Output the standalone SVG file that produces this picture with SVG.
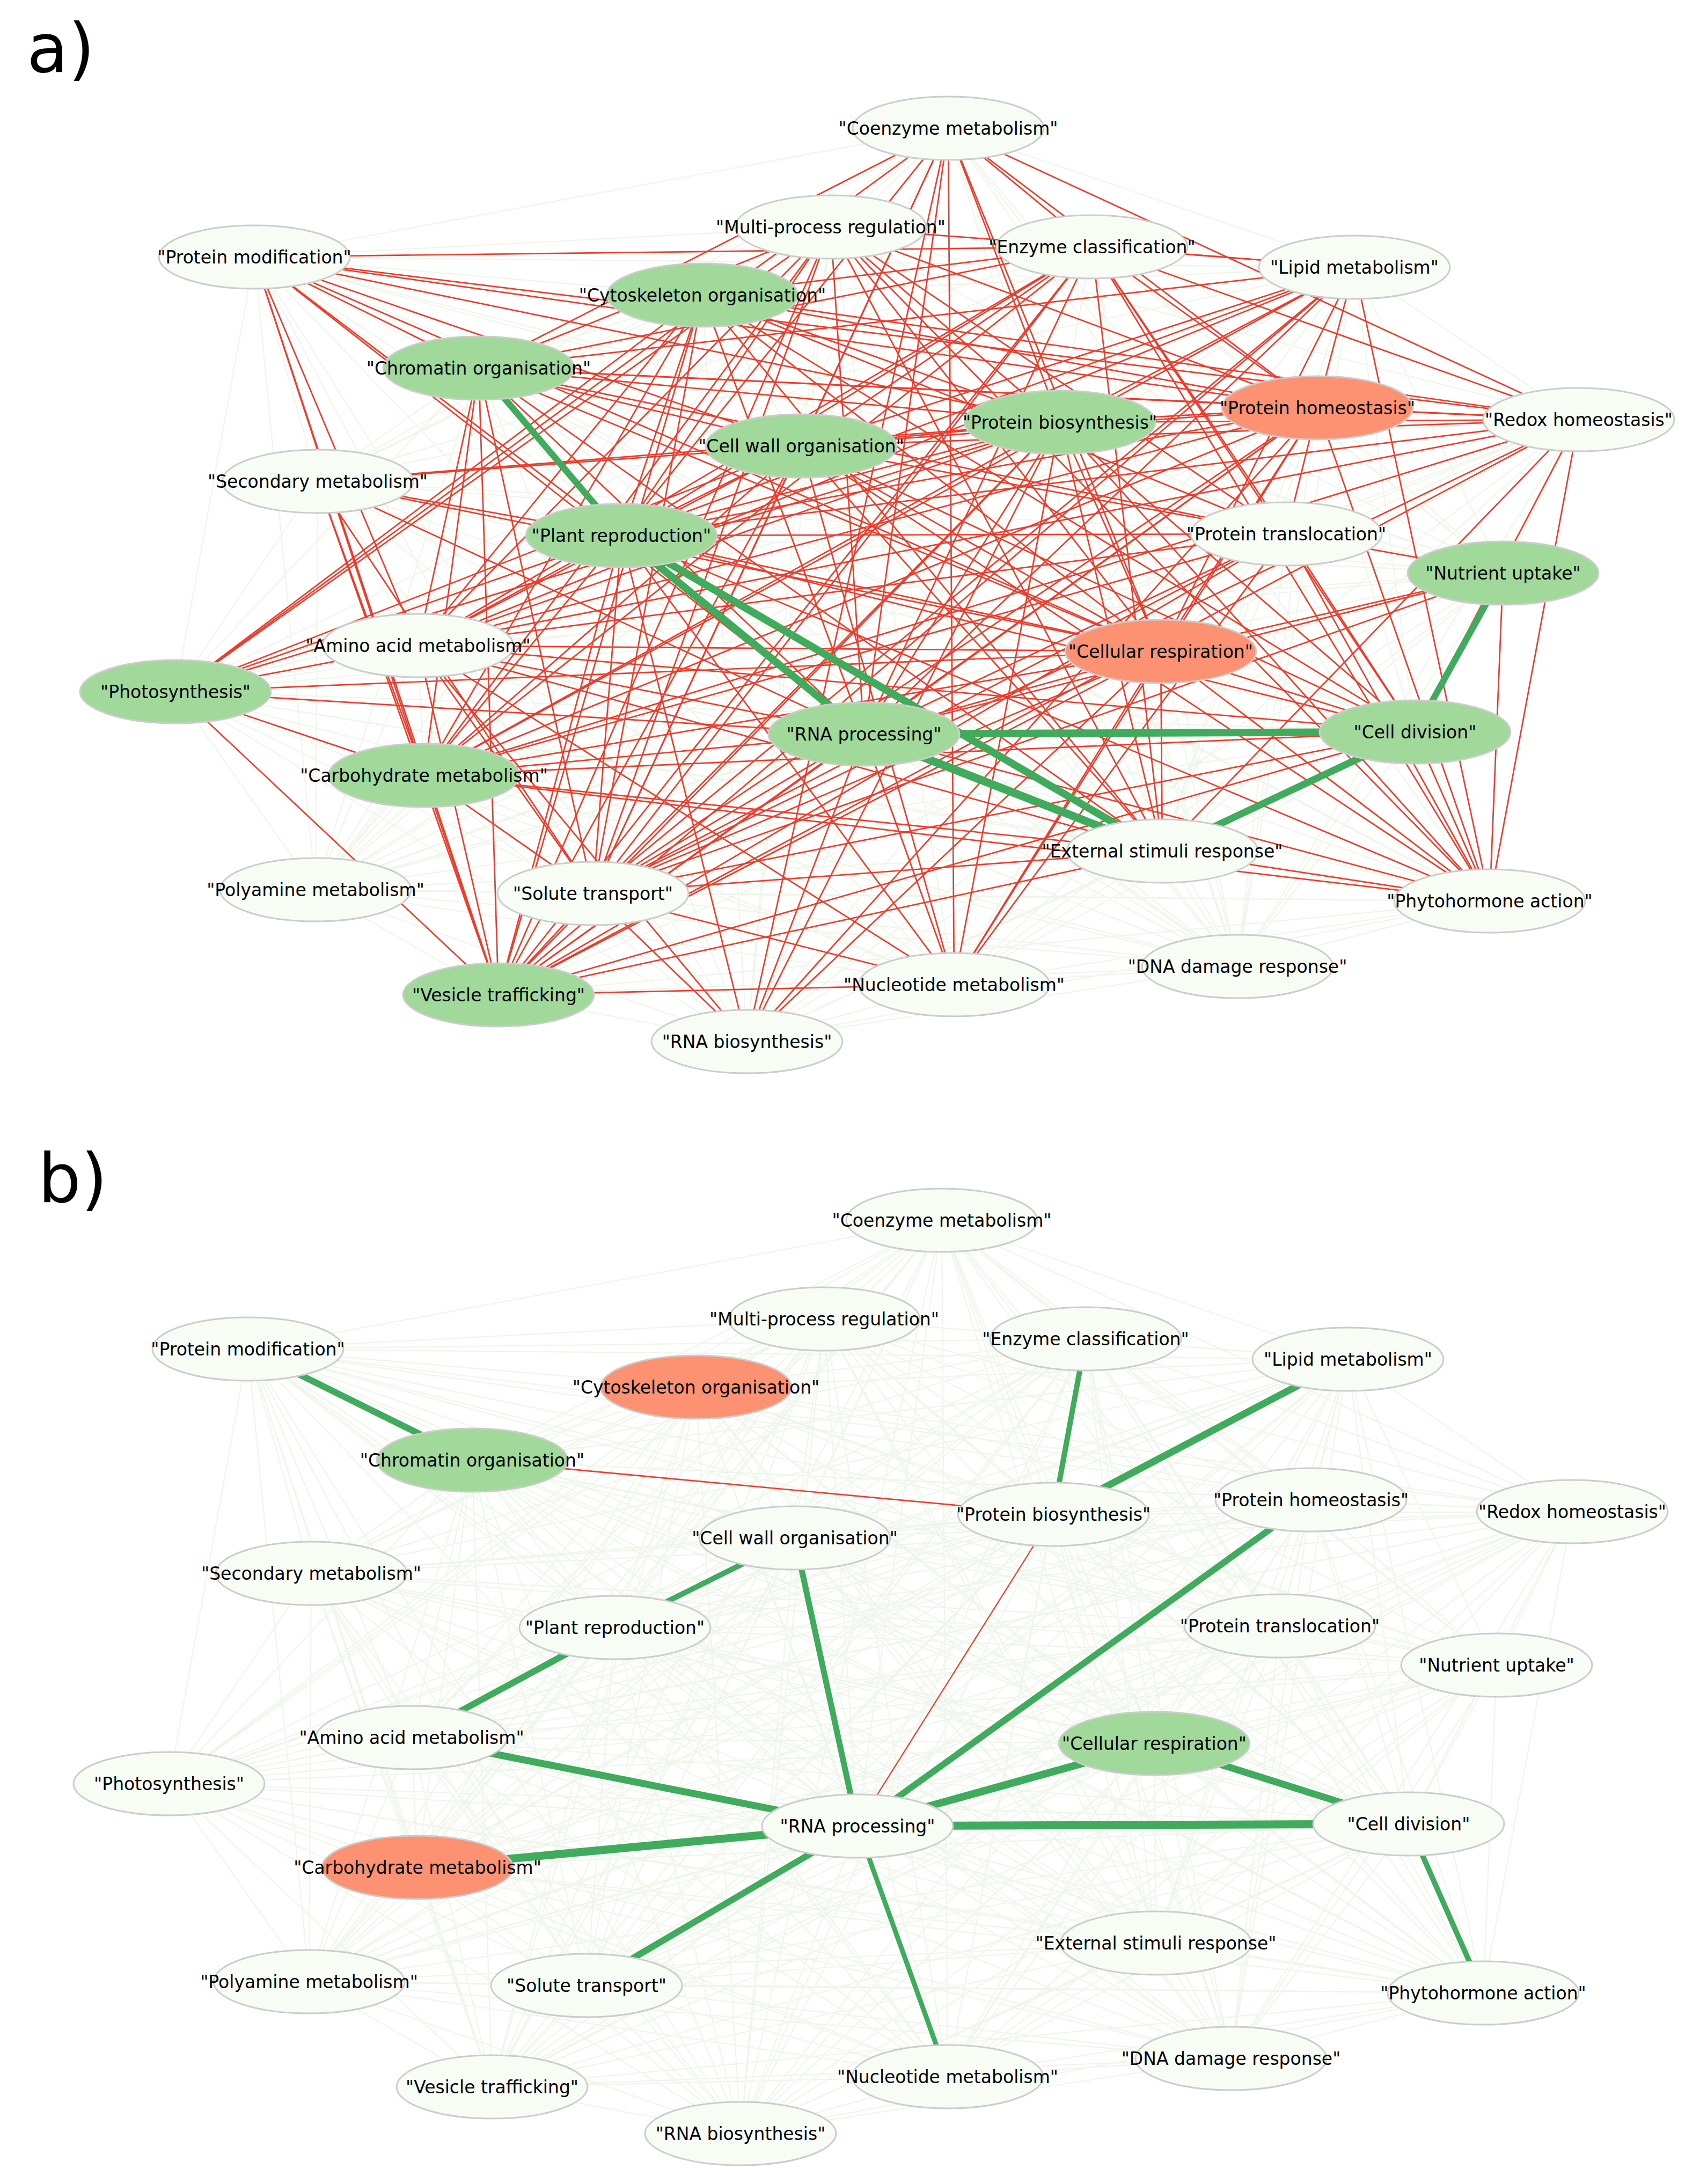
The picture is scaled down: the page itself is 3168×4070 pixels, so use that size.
<svg xmlns="http://www.w3.org/2000/svg" xmlns:xlink="http://www.w3.org/1999/xlink" width="3168" height="4070" viewBox="0 0 3168 4070">
<style>
.node ellipse{stroke:#cccccc;stroke-width:3}
.w{fill:#f7fcf5}
.g{fill:#a1d99b}
.s{fill:#fc9272}
.node text{font-family:"DejaVu Sans",Verdana,sans-serif;font-size:33px;text-anchor:middle;fill:#000}
.panel{font-family:"DejaVu Sans",Verdana,sans-serif;font-size:126px;fill:#000}
.red line{stroke:#ef3b2c;stroke-width:2.7}
.grn line{stroke:#41ab5d;stroke-linecap:butt}
.mesh{fill:none;stroke:#eef6ea;stroke-width:2.2}
</style>
<defs>
<path id="mesh" class="mesh" d="M1767 239L1548 423M1767 239L474 479M1767 239L2035 460M1767 239L2524 498M1767 239L1309 550M1767 239L892 686M1767 239L2455 760M1767 239L2942 782M1767 239L1975 787M1767 239L1493 831M1767 239L592 897M1767 239L2397 995M1767 239L1158 998M1767 239L2801 1068M1767 239L779 1203M1767 239L2163 1214M1767 239L327 1289M1767 239L1610 1368M1767 239L2637 1364M1767 239L790 1445M1767 239L2166 1586M1767 239L588 1658M1767 239L1105 1665M1767 239L2776 1679M1767 239L2306 1801M1767 239L1778 1835M1767 239L929 1854M1767 239L1392 1941
M1548 423L474 479M1548 423L2035 460M1548 423L2524 498M1548 423L1309 550M1548 423L892 686M1548 423L2455 760M1548 423L2942 782M1548 423L1975 787M1548 423L1493 831M1548 423L592 897M1548 423L2397 995M1548 423L1158 998M1548 423L2801 1068M1548 423L779 1203M1548 423L2163 1214M1548 423L327 1289M1548 423L1610 1368M1548 423L2637 1364M1548 423L790 1445M1548 423L2166 1586M1548 423L588 1658M1548 423L1105 1665M1548 423L2776 1679M1548 423L2306 1801M1548 423L1778 1835M1548 423L929 1854M1548 423L1392 1941
M474 479L2035 460M474 479L2524 498M474 479L1309 550M474 479L892 686M474 479L2455 760M474 479L2942 782M474 479L1975 787M474 479L1493 831M474 479L592 897M474 479L2397 995M474 479L1158 998M474 479L2801 1068M474 479L779 1203M474 479L2163 1214M474 479L327 1289M474 479L1610 1368M474 479L2637 1364M474 479L790 1445M474 479L2166 1586M474 479L588 1658M474 479L1105 1665M474 479L2776 1679M474 479L2306 1801M474 479L1778 1835M474 479L929 1854M474 479L1392 1941
M2035 460L2524 498M2035 460L1309 550M2035 460L892 686M2035 460L2455 760M2035 460L2942 782M2035 460L1975 787M2035 460L1493 831M2035 460L592 897M2035 460L2397 995M2035 460L1158 998M2035 460L2801 1068M2035 460L779 1203M2035 460L2163 1214M2035 460L327 1289M2035 460L1610 1368M2035 460L2637 1364M2035 460L790 1445M2035 460L2166 1586M2035 460L588 1658M2035 460L1105 1665M2035 460L2776 1679M2035 460L2306 1801M2035 460L1778 1835M2035 460L929 1854M2035 460L1392 1941
M2524 498L1309 550M2524 498L892 686M2524 498L2455 760M2524 498L2942 782M2524 498L1975 787M2524 498L1493 831M2524 498L592 897M2524 498L2397 995M2524 498L1158 998M2524 498L2801 1068M2524 498L779 1203M2524 498L2163 1214M2524 498L327 1289M2524 498L1610 1368M2524 498L2637 1364M2524 498L790 1445M2524 498L2166 1586M2524 498L588 1658M2524 498L1105 1665M2524 498L2776 1679M2524 498L2306 1801M2524 498L1778 1835M2524 498L929 1854M2524 498L1392 1941
M1309 550L892 686M1309 550L2455 760M1309 550L2942 782M1309 550L1975 787M1309 550L1493 831M1309 550L592 897M1309 550L2397 995M1309 550L1158 998M1309 550L2801 1068M1309 550L779 1203M1309 550L2163 1214M1309 550L327 1289M1309 550L1610 1368M1309 550L2637 1364M1309 550L790 1445M1309 550L2166 1586M1309 550L588 1658M1309 550L1105 1665M1309 550L2776 1679M1309 550L2306 1801M1309 550L1778 1835M1309 550L929 1854M1309 550L1392 1941
M892 686L2455 760M892 686L2942 782M892 686L1975 787M892 686L1493 831M892 686L592 897M892 686L2397 995M892 686L1158 998M892 686L2801 1068M892 686L779 1203M892 686L2163 1214M892 686L327 1289M892 686L1610 1368M892 686L2637 1364M892 686L790 1445M892 686L2166 1586M892 686L588 1658M892 686L1105 1665M892 686L2776 1679M892 686L2306 1801M892 686L1778 1835M892 686L929 1854M892 686L1392 1941
M2455 760L2942 782M2455 760L1975 787M2455 760L1493 831M2455 760L592 897M2455 760L2397 995M2455 760L1158 998M2455 760L2801 1068M2455 760L779 1203M2455 760L2163 1214M2455 760L327 1289M2455 760L1610 1368M2455 760L2637 1364M2455 760L790 1445M2455 760L2166 1586M2455 760L588 1658M2455 760L1105 1665M2455 760L2776 1679M2455 760L2306 1801M2455 760L1778 1835M2455 760L929 1854M2455 760L1392 1941
M2942 782L1975 787M2942 782L1493 831M2942 782L592 897M2942 782L2397 995M2942 782L1158 998M2942 782L2801 1068M2942 782L779 1203M2942 782L2163 1214M2942 782L327 1289M2942 782L1610 1368M2942 782L2637 1364M2942 782L790 1445M2942 782L2166 1586M2942 782L588 1658M2942 782L1105 1665M2942 782L2776 1679M2942 782L2306 1801M2942 782L1778 1835M2942 782L929 1854M2942 782L1392 1941
M1975 787L1493 831M1975 787L592 897M1975 787L2397 995M1975 787L1158 998M1975 787L2801 1068M1975 787L779 1203M1975 787L2163 1214M1975 787L327 1289M1975 787L1610 1368M1975 787L2637 1364M1975 787L790 1445M1975 787L2166 1586M1975 787L588 1658M1975 787L1105 1665M1975 787L2776 1679M1975 787L2306 1801M1975 787L1778 1835M1975 787L929 1854M1975 787L1392 1941
M1493 831L592 897M1493 831L2397 995M1493 831L1158 998M1493 831L2801 1068M1493 831L779 1203M1493 831L2163 1214M1493 831L327 1289M1493 831L1610 1368M1493 831L2637 1364M1493 831L790 1445M1493 831L2166 1586M1493 831L588 1658M1493 831L1105 1665M1493 831L2776 1679M1493 831L2306 1801M1493 831L1778 1835M1493 831L929 1854M1493 831L1392 1941
M592 897L2397 995M592 897L1158 998M592 897L2801 1068M592 897L779 1203M592 897L2163 1214M592 897L327 1289M592 897L1610 1368M592 897L2637 1364M592 897L790 1445M592 897L2166 1586M592 897L588 1658M592 897L1105 1665M592 897L2776 1679M592 897L2306 1801M592 897L1778 1835M592 897L929 1854M592 897L1392 1941
M2397 995L1158 998M2397 995L2801 1068M2397 995L779 1203M2397 995L2163 1214M2397 995L327 1289M2397 995L1610 1368M2397 995L2637 1364M2397 995L790 1445M2397 995L2166 1586M2397 995L588 1658M2397 995L1105 1665M2397 995L2776 1679M2397 995L2306 1801M2397 995L1778 1835M2397 995L929 1854M2397 995L1392 1941
M1158 998L2801 1068M1158 998L779 1203M1158 998L2163 1214M1158 998L327 1289M1158 998L1610 1368M1158 998L2637 1364M1158 998L790 1445M1158 998L2166 1586M1158 998L588 1658M1158 998L1105 1665M1158 998L2776 1679M1158 998L2306 1801M1158 998L1778 1835M1158 998L929 1854M1158 998L1392 1941
M2801 1068L779 1203M2801 1068L2163 1214M2801 1068L327 1289M2801 1068L1610 1368M2801 1068L2637 1364M2801 1068L790 1445M2801 1068L2166 1586M2801 1068L588 1658M2801 1068L1105 1665M2801 1068L2776 1679M2801 1068L2306 1801M2801 1068L1778 1835M2801 1068L929 1854M2801 1068L1392 1941
M779 1203L2163 1214M779 1203L327 1289M779 1203L1610 1368M779 1203L2637 1364M779 1203L790 1445M779 1203L2166 1586M779 1203L588 1658M779 1203L1105 1665M779 1203L2776 1679M779 1203L2306 1801M779 1203L1778 1835M779 1203L929 1854M779 1203L1392 1941
M2163 1214L327 1289M2163 1214L1610 1368M2163 1214L2637 1364M2163 1214L790 1445M2163 1214L2166 1586M2163 1214L588 1658M2163 1214L1105 1665M2163 1214L2776 1679M2163 1214L2306 1801M2163 1214L1778 1835M2163 1214L929 1854M2163 1214L1392 1941
M327 1289L1610 1368M327 1289L2637 1364M327 1289L790 1445M327 1289L2166 1586M327 1289L588 1658M327 1289L1105 1665M327 1289L2776 1679M327 1289L2306 1801M327 1289L1778 1835M327 1289L929 1854M327 1289L1392 1941
M1610 1368L2637 1364M1610 1368L790 1445M1610 1368L2166 1586M1610 1368L588 1658M1610 1368L1105 1665M1610 1368L2776 1679M1610 1368L2306 1801M1610 1368L1778 1835M1610 1368L929 1854M1610 1368L1392 1941
M2637 1364L790 1445M2637 1364L2166 1586M2637 1364L588 1658M2637 1364L1105 1665M2637 1364L2776 1679M2637 1364L2306 1801M2637 1364L1778 1835M2637 1364L929 1854M2637 1364L1392 1941
M790 1445L2166 1586M790 1445L588 1658M790 1445L1105 1665M790 1445L2776 1679M790 1445L2306 1801M790 1445L1778 1835M790 1445L929 1854M790 1445L1392 1941
M2166 1586L588 1658M2166 1586L1105 1665M2166 1586L2776 1679M2166 1586L2306 1801M2166 1586L1778 1835M2166 1586L929 1854M2166 1586L1392 1941
M588 1658L1105 1665M588 1658L2776 1679M588 1658L2306 1801M588 1658L1778 1835M588 1658L929 1854M588 1658L1392 1941
M1105 1665L2776 1679M1105 1665L2306 1801M1105 1665L1778 1835M1105 1665L929 1854M1105 1665L1392 1941
M2776 1679L2306 1801M2776 1679L1778 1835M2776 1679L929 1854M2776 1679L1392 1941
M2306 1801L1778 1835M2306 1801L929 1854M2306 1801L1392 1941
M1778 1835L929 1854M1778 1835L1392 1941M929 1854L1392 1941"/>
</defs>
<rect width="3168" height="4070" fill="#ffffff"/>

<text class="panel" x="50" y="134">a)</text>
<g id="panel-a">
<g id="a-connectors">
<use href="#mesh" xlink:href="#mesh"/>
<g class="red">
<line x1="1767" y1="239" x2="892" y2="686"/><line x1="1767" y1="239" x2="1158" y2="998"/><line x1="1767" y1="239" x2="1105" y2="1665"/><line x1="1767" y1="239" x2="1392" y2="1941"/><line x1="1767" y1="239" x2="1610" y2="1368"/><line x1="1767" y1="239" x2="1975" y2="787"/><line x1="1767" y1="239" x2="2163" y2="1214"/><line x1="1767" y1="239" x2="2455" y2="760"/><line x1="1767" y1="239" x2="2942" y2="782"/><line x1="1767" y1="239" x2="1493" y2="831"/><line x1="1767" y1="239" x2="2035" y2="460"/><line x1="1767" y1="239" x2="1778" y2="1835"/><line x1="1767" y1="239" x2="327" y2="1289"/>
<line x1="1548" y1="423" x2="892" y2="686"/><line x1="1548" y1="423" x2="1158" y2="998"/><line x1="1548" y1="423" x2="779" y2="1203"/><line x1="1548" y1="423" x2="790" y2="1445"/><line x1="1548" y1="423" x2="1105" y2="1665"/><line x1="1548" y1="423" x2="929" y2="1854"/><line x1="1548" y1="423" x2="2455" y2="760"/><line x1="1548" y1="423" x2="2397" y2="995"/><line x1="1548" y1="423" x2="2163" y2="1214"/><line x1="1548" y1="423" x2="2166" y2="1586"/><line x1="1548" y1="423" x2="1610" y2="1368"/><line x1="1548" y1="423" x2="2524" y2="498"/><line x1="1548" y1="423" x2="2776" y2="1679"/><line x1="1548" y1="423" x2="2637" y2="1364"/><line x1="1548" y1="423" x2="327" y2="1289"/>
<line x1="474" y1="479" x2="2035" y2="460"/><line x1="474" y1="479" x2="2455" y2="760"/><line x1="474" y1="479" x2="1975" y2="787"/><line x1="474" y1="479" x2="1493" y2="831"/><line x1="474" y1="479" x2="2163" y2="1214"/><line x1="474" y1="479" x2="892" y2="686"/><line x1="474" y1="479" x2="1158" y2="998"/><line x1="474" y1="479" x2="1610" y2="1368"/><line x1="474" y1="479" x2="779" y2="1203"/><line x1="474" y1="479" x2="790" y2="1445"/><line x1="474" y1="479" x2="929" y2="1854"/><line x1="474" y1="479" x2="2942" y2="782"/>
<line x1="2035" y1="460" x2="1309" y2="550"/><line x1="2035" y1="460" x2="892" y2="686"/><line x1="2035" y1="460" x2="1493" y2="831"/><line x1="2035" y1="460" x2="1158" y2="998"/><line x1="2035" y1="460" x2="779" y2="1203"/><line x1="2035" y1="460" x2="1105" y2="1665"/><line x1="2035" y1="460" x2="929" y2="1854"/><line x1="2035" y1="460" x2="2455" y2="760"/><line x1="2035" y1="460" x2="2942" y2="782"/><line x1="2035" y1="460" x2="2637" y2="1364"/><line x1="2035" y1="460" x2="1610" y2="1368"/><line x1="2035" y1="460" x2="790" y2="1445"/><line x1="2035" y1="460" x2="2524" y2="498"/><line x1="2035" y1="460" x2="2397" y2="995"/><line x1="2035" y1="460" x2="2166" y2="1586"/><line x1="2035" y1="460" x2="2776" y2="1679"/>
<line x1="2524" y1="498" x2="892" y2="686"/><line x1="2524" y1="498" x2="1493" y2="831"/><line x1="2524" y1="498" x2="1158" y2="998"/><line x1="2524" y1="498" x2="779" y2="1203"/><line x1="2524" y1="498" x2="1105" y2="1665"/><line x1="2524" y1="498" x2="2455" y2="760"/><line x1="2524" y1="498" x2="2163" y2="1214"/><line x1="2524" y1="498" x2="2776" y2="1679"/><line x1="2524" y1="498" x2="1610" y2="1368"/><line x1="2524" y1="498" x2="929" y2="1854"/><line x1="2524" y1="498" x2="1975" y2="787"/><line x1="2524" y1="498" x2="790" y2="1445"/>
<line x1="1309" y1="550" x2="2455" y2="760"/><line x1="1309" y1="550" x2="2942" y2="782"/><line x1="1309" y1="550" x2="1975" y2="787"/><line x1="1309" y1="550" x2="1158" y2="998"/><line x1="1309" y1="550" x2="779" y2="1203"/><line x1="1309" y1="550" x2="790" y2="1445"/><line x1="1309" y1="550" x2="1105" y2="1665"/><line x1="1309" y1="550" x2="929" y2="1854"/><line x1="1309" y1="550" x2="1610" y2="1368"/><line x1="1309" y1="550" x2="2163" y2="1214"/><line x1="1309" y1="550" x2="2397" y2="995"/><line x1="1309" y1="550" x2="2637" y2="1364"/><line x1="1309" y1="550" x2="2166" y2="1586"/><line x1="1309" y1="550" x2="327" y2="1289"/>
<line x1="892" y1="686" x2="2455" y2="760"/><line x1="892" y1="686" x2="1975" y2="787"/><line x1="892" y1="686" x2="1493" y2="831"/><line x1="892" y1="686" x2="779" y2="1203"/><line x1="892" y1="686" x2="790" y2="1445"/><line x1="892" y1="686" x2="1105" y2="1665"/><line x1="892" y1="686" x2="929" y2="1854"/><line x1="892" y1="686" x2="1610" y2="1368"/><line x1="892" y1="686" x2="2163" y2="1214"/><line x1="892" y1="686" x2="2397" y2="995"/><line x1="892" y1="686" x2="2166" y2="1586"/><line x1="892" y1="686" x2="2942" y2="782"/>
<line x1="2455" y1="760" x2="1975" y2="787"/><line x1="2455" y1="760" x2="2942" y2="782"/><line x1="2455" y1="760" x2="1493" y2="831"/><line x1="2455" y1="760" x2="1158" y2="998"/><line x1="2455" y1="760" x2="779" y2="1203"/><line x1="2455" y1="760" x2="790" y2="1445"/><line x1="2455" y1="760" x2="1105" y2="1665"/><line x1="2455" y1="760" x2="929" y2="1854"/><line x1="2455" y1="760" x2="1610" y2="1368"/><line x1="2455" y1="760" x2="2163" y2="1214"/><line x1="2455" y1="760" x2="2397" y2="995"/><line x1="2455" y1="760" x2="2776" y2="1679"/><line x1="2455" y1="760" x2="1778" y2="1835"/><line x1="2455" y1="760" x2="1392" y2="1941"/>
<line x1="2942" y1="782" x2="1975" y2="787"/><line x1="2942" y1="782" x2="1493" y2="831"/><line x1="2942" y1="782" x2="1158" y2="998"/><line x1="2942" y1="782" x2="2637" y2="1364"/><line x1="2942" y1="782" x2="2776" y2="1679"/><line x1="2942" y1="782" x2="1105" y2="1665"/><line x1="2942" y1="782" x2="929" y2="1854"/><line x1="2942" y1="782" x2="779" y2="1203"/><line x1="2942" y1="782" x2="790" y2="1445"/><line x1="2942" y1="782" x2="2166" y2="1586"/>
<line x1="1975" y1="787" x2="1493" y2="831"/><line x1="1975" y1="787" x2="1158" y2="998"/><line x1="1975" y1="787" x2="779" y2="1203"/><line x1="1975" y1="787" x2="790" y2="1445"/><line x1="1975" y1="787" x2="1105" y2="1665"/><line x1="1975" y1="787" x2="929" y2="1854"/><line x1="1975" y1="787" x2="1610" y2="1368"/><line x1="1975" y1="787" x2="2163" y2="1214"/><line x1="1975" y1="787" x2="2166" y2="1586"/><line x1="1975" y1="787" x2="2776" y2="1679"/><line x1="1975" y1="787" x2="1778" y2="1835"/><line x1="1975" y1="787" x2="1392" y2="1941"/><line x1="1975" y1="787" x2="592" y2="897"/><line x1="1975" y1="787" x2="327" y2="1289"/>
<line x1="1493" y1="831" x2="592" y2="897"/><line x1="1493" y1="831" x2="1158" y2="998"/><line x1="1493" y1="831" x2="779" y2="1203"/><line x1="1493" y1="831" x2="790" y2="1445"/><line x1="1493" y1="831" x2="1105" y2="1665"/><line x1="1493" y1="831" x2="929" y2="1854"/><line x1="1493" y1="831" x2="2163" y2="1214"/><line x1="1493" y1="831" x2="2397" y2="995"/><line x1="1493" y1="831" x2="2637" y2="1364"/><line x1="1493" y1="831" x2="2166" y2="1586"/><line x1="1493" y1="831" x2="1778" y2="1835"/><line x1="1493" y1="831" x2="2776" y2="1679"/><line x1="1493" y1="831" x2="327" y2="1289"/>
<line x1="592" y1="897" x2="1158" y2="998"/><line x1="592" y1="897" x2="2163" y2="1214"/><line x1="592" y1="897" x2="1610" y2="1368"/><line x1="592" y1="897" x2="790" y2="1445"/><line x1="592" y1="897" x2="929" y2="1854"/><line x1="592" y1="897" x2="1105" y2="1665"/>
<line x1="2397" y1="995" x2="1158" y2="998"/><line x1="2397" y1="995" x2="779" y2="1203"/><line x1="2397" y1="995" x2="790" y2="1445"/><line x1="2397" y1="995" x2="1105" y2="1665"/><line x1="2397" y1="995" x2="929" y2="1854"/><line x1="2397" y1="995" x2="1610" y2="1368"/><line x1="2397" y1="995" x2="2637" y2="1364"/><line x1="2397" y1="995" x2="2776" y2="1679"/><line x1="2397" y1="995" x2="1778" y2="1835"/><line x1="2397" y1="995" x2="2801" y2="1068"/>
<line x1="1158" y1="998" x2="779" y2="1203"/><line x1="1158" y1="998" x2="790" y2="1445"/><line x1="1158" y1="998" x2="1105" y2="1665"/><line x1="1158" y1="998" x2="929" y2="1854"/><line x1="1158" y1="998" x2="2163" y2="1214"/><line x1="1158" y1="998" x2="2637" y2="1364"/><line x1="1158" y1="998" x2="2776" y2="1679"/><line x1="1158" y1="998" x2="1778" y2="1835"/><line x1="1158" y1="998" x2="1392" y2="1941"/><line x1="1158" y1="998" x2="327" y2="1289"/>
<line x1="2801" y1="1068" x2="2163" y2="1214"/><line x1="2801" y1="1068" x2="1610" y2="1368"/><line x1="2801" y1="1068" x2="1105" y2="1665"/><line x1="2801" y1="1068" x2="2776" y2="1679"/>
<line x1="779" y1="1203" x2="2163" y2="1214"/><line x1="779" y1="1203" x2="1610" y2="1368"/><line x1="779" y1="1203" x2="2637" y2="1364"/><line x1="779" y1="1203" x2="1105" y2="1665"/><line x1="779" y1="1203" x2="929" y2="1854"/><line x1="779" y1="1203" x2="2166" y2="1586"/><line x1="779" y1="1203" x2="1392" y2="1941"/><line x1="779" y1="1203" x2="1778" y2="1835"/><line x1="779" y1="1203" x2="327" y2="1289"/>
<line x1="2163" y1="1214" x2="1610" y2="1368"/><line x1="2163" y1="1214" x2="2637" y2="1364"/><line x1="2163" y1="1214" x2="790" y2="1445"/><line x1="2163" y1="1214" x2="1105" y2="1665"/><line x1="2163" y1="1214" x2="929" y2="1854"/><line x1="2163" y1="1214" x2="1778" y2="1835"/><line x1="2163" y1="1214" x2="1392" y2="1941"/><line x1="2163" y1="1214" x2="2776" y2="1679"/><line x1="2163" y1="1214" x2="2166" y2="1586"/><line x1="2163" y1="1214" x2="327" y2="1289"/>
<line x1="1610" y1="1368" x2="790" y2="1445"/><line x1="1610" y1="1368" x2="1105" y2="1665"/><line x1="1610" y1="1368" x2="929" y2="1854"/><line x1="1610" y1="1368" x2="1778" y2="1835"/><line x1="1610" y1="1368" x2="1392" y2="1941"/><line x1="1610" y1="1368" x2="2776" y2="1679"/><line x1="1610" y1="1368" x2="327" y2="1289"/>
<line x1="2637" y1="1364" x2="790" y2="1445"/><line x1="2637" y1="1364" x2="1105" y2="1665"/><line x1="2637" y1="1364" x2="929" y2="1854"/><line x1="2637" y1="1364" x2="2776" y2="1679"/>
<line x1="790" y1="1445" x2="1105" y2="1665"/><line x1="790" y1="1445" x2="929" y2="1854"/><line x1="790" y1="1445" x2="2166" y2="1586"/><line x1="790" y1="1445" x2="2776" y2="1679"/><line x1="790" y1="1445" x2="327" y2="1289"/>
<line x1="2166" y1="1586" x2="1105" y2="1665"/><line x1="2166" y1="1586" x2="929" y2="1854"/><line x1="2166" y1="1586" x2="2776" y2="1679"/>
<line x1="1105" y1="1665" x2="929" y2="1854"/><line x1="1105" y1="1665" x2="1392" y2="1941"/><line x1="1105" y1="1665" x2="1778" y2="1835"/>
<line x1="929" y1="1854" x2="1778" y2="1835"/><line x1="929" y1="1854" x2="327" y2="1289"/>
</g>
<g class="grn">
<line x1="892" y1="686" x2="1158" y2="998" stroke-width="12"/>
<line x1="1158" y1="998" x2="1610" y2="1368" stroke-width="14"/>
<line x1="1158" y1="998" x2="2166" y2="1586" stroke-width="14"/>
<line x1="1610" y1="1368" x2="2166" y2="1586" stroke-width="15"/>
<line x1="1610" y1="1368" x2="2637" y2="1364" stroke-width="14"/>
<line x1="2801" y1="1068" x2="2637" y2="1364" stroke-width="12"/>
<line x1="2637" y1="1364" x2="2166" y2="1586" stroke-width="13"/>
</g>
</g>
<g id="a-nodes">
<g id="a-coenzyme-metabolism" class="node"><ellipse class="w" cx="1767" cy="239" rx="178" ry="59"/><text x="1767" y="251">"Coenzyme metabolism"</text></g>
<g id="a-multi-process-regulation" class="node"><ellipse class="w" cx="1548" cy="423" rx="178" ry="59"/><text x="1548" y="435">"Multi-process regulation"</text></g>
<g id="a-protein-modification" class="node"><ellipse class="w" cx="474" cy="479" rx="178" ry="59"/><text x="474" y="491">"Protein modification"</text></g>
<g id="a-enzyme-classification" class="node"><ellipse class="w" cx="2035" cy="460" rx="178" ry="59"/><text x="2035" y="472">"Enzyme classification"</text></g>
<g id="a-lipid-metabolism" class="node"><ellipse class="w" cx="2524" cy="498" rx="178" ry="59"/><text x="2524" y="510">"Lipid metabolism"</text></g>
<g id="a-cytoskeleton-organisation" class="node"><ellipse class="g" cx="1309" cy="550" rx="178" ry="59"/><text x="1309" y="562">"Cytoskeleton organisation"</text></g>
<g id="a-chromatin-organisation" class="node"><ellipse class="g" cx="892" cy="686" rx="178" ry="59"/><text x="892" y="698">"Chromatin organisation"</text></g>
<g id="a-protein-homeostasis" class="node"><ellipse class="s" cx="2455" cy="760" rx="178" ry="59"/><text x="2455" y="772">"Protein homeostasis"</text></g>
<g id="a-redox-homeostasis" class="node"><ellipse class="w" cx="2942" cy="782" rx="178" ry="59"/><text x="2942" y="794">"Redox homeostasis"</text></g>
<g id="a-protein-biosynthesis" class="node"><ellipse class="g" cx="1975" cy="787" rx="178" ry="59"/><text x="1975" y="799">"Protein biosynthesis"</text></g>
<g id="a-cell-wall-organisation" class="node"><ellipse class="g" cx="1493" cy="831" rx="178" ry="59"/><text x="1493" y="843">"Cell wall organisation"</text></g>
<g id="a-secondary-metabolism" class="node"><ellipse class="w" cx="592" cy="897" rx="178" ry="59"/><text x="592" y="909">"Secondary metabolism"</text></g>
<g id="a-protein-translocation" class="node"><ellipse class="w" cx="2397" cy="995" rx="178" ry="59"/><text x="2397" y="1007">"Protein translocation"</text></g>
<g id="a-plant-reproduction" class="node"><ellipse class="g" cx="1158" cy="998" rx="178" ry="59"/><text x="1158" y="1010">"Plant reproduction"</text></g>
<g id="a-nutrient-uptake" class="node"><ellipse class="g" cx="2801" cy="1068" rx="178" ry="59"/><text x="2801" y="1080">"Nutrient uptake"</text></g>
<g id="a-amino-acid-metabolism" class="node"><ellipse class="w" cx="779" cy="1203" rx="178" ry="59"/><text x="779" y="1215">"Amino acid metabolism"</text></g>
<g id="a-cellular-respiration" class="node"><ellipse class="s" cx="2163" cy="1214" rx="178" ry="59"/><text x="2163" y="1226">"Cellular respiration"</text></g>
<g id="a-photosynthesis" class="node"><ellipse class="g" cx="327" cy="1289" rx="178" ry="59"/><text x="327" y="1301">"Photosynthesis"</text></g>
<g id="a-rna-processing" class="node"><ellipse class="g" cx="1610" cy="1368" rx="178" ry="59"/><text x="1610" y="1380">"RNA processing"</text></g>
<g id="a-cell-division" class="node"><ellipse class="g" cx="2637" cy="1364" rx="178" ry="59"/><text x="2637" y="1376">"Cell division"</text></g>
<g id="a-carbohydrate-metabolism" class="node"><ellipse class="g" cx="790" cy="1445" rx="178" ry="59"/><text x="790" y="1457">"Carbohydrate metabolism"</text></g>
<g id="a-external-stimuli-response" class="node"><ellipse class="w" cx="2166" cy="1586" rx="178" ry="59"/><text x="2166" y="1598">"External stimuli response"</text></g>
<g id="a-polyamine-metabolism" class="node"><ellipse class="w" cx="588" cy="1658" rx="178" ry="59"/><text x="588" y="1670">"Polyamine metabolism"</text></g>
<g id="a-solute-transport" class="node"><ellipse class="w" cx="1105" cy="1665" rx="178" ry="59"/><text x="1105" y="1677">"Solute transport"</text></g>
<g id="a-phytohormone-action" class="node"><ellipse class="w" cx="2776" cy="1679" rx="178" ry="59"/><text x="2776" y="1691">"Phytohormone action"</text></g>
<g id="a-dna-damage-response" class="node"><ellipse class="w" cx="2306" cy="1801" rx="178" ry="59"/><text x="2306" y="1813">"DNA damage response"</text></g>
<g id="a-nucleotide-metabolism" class="node"><ellipse class="w" cx="1778" cy="1835" rx="178" ry="59"/><text x="1778" y="1847">"Nucleotide metabolism"</text></g>
<g id="a-vesicle-trafficking" class="node"><ellipse class="g" cx="929" cy="1854" rx="178" ry="59"/><text x="929" y="1866">"Vesicle trafficking"</text></g>
<g id="a-rna-biosynthesis" class="node"><ellipse class="w" cx="1392" cy="1941" rx="178" ry="59"/><text x="1392" y="1953">"RNA biosynthesis"</text></g>
</g>
</g>

<text class="panel" x="71" y="2240">b)</text>
<g id="panel-b" transform="translate(-12,2035)">
<g id="b-connectors">
<use href="#mesh" xlink:href="#mesh"/>
<g class="red">
<line x1="892" y1="686" x2="1975" y2="787"/>
<line x1="1975" y1="787" x2="1610" y2="1368" style="stroke-width:2.3"/>
</g>
<g class="grn">
<line x1="474" y1="479" x2="892" y2="686" stroke-width="12"/>
<line x1="2035" y1="460" x2="1975" y2="787" stroke-width="10"/>
<line x1="2524" y1="498" x2="1975" y2="787" stroke-width="13"/>
<line x1="1493" y1="831" x2="1158" y2="998" stroke-width="10"/>
<line x1="1493" y1="831" x2="1610" y2="1368" stroke-width="11"/>
<line x1="1158" y1="998" x2="779" y2="1203" stroke-width="12"/>
<line x1="2455" y1="760" x2="1610" y2="1368" stroke-width="12"/>
<line x1="779" y1="1203" x2="1610" y2="1368" stroke-width="13"/>
<line x1="790" y1="1445" x2="1610" y2="1368" stroke-width="15"/>
<line x1="1105" y1="1665" x2="1610" y2="1368" stroke-width="12"/>
<line x1="1610" y1="1368" x2="1778" y2="1835" stroke-width="9"/>
<line x1="1610" y1="1368" x2="2163" y2="1214" stroke-width="14"/>
<line x1="1610" y1="1368" x2="2637" y2="1364" stroke-width="15"/>
<line x1="2163" y1="1214" x2="2637" y2="1364" stroke-width="13"/>
<line x1="2637" y1="1364" x2="2776" y2="1679" stroke-width="10"/>
</g>
</g>
<g id="b-nodes">
<g id="b-coenzyme-metabolism" class="node"><ellipse class="w" cx="1767" cy="239" rx="178" ry="59"/><text x="1767" y="251">"Coenzyme metabolism"</text></g>
<g id="b-multi-process-regulation" class="node"><ellipse class="w" cx="1548" cy="423" rx="178" ry="59"/><text x="1548" y="435">"Multi-process regulation"</text></g>
<g id="b-protein-modification" class="node"><ellipse class="w" cx="474" cy="479" rx="178" ry="59"/><text x="474" y="491">"Protein modification"</text></g>
<g id="b-enzyme-classification" class="node"><ellipse class="w" cx="2035" cy="460" rx="178" ry="59"/><text x="2035" y="472">"Enzyme classification"</text></g>
<g id="b-lipid-metabolism" class="node"><ellipse class="w" cx="2524" cy="498" rx="178" ry="59"/><text x="2524" y="510">"Lipid metabolism"</text></g>
<g id="b-cytoskeleton-organisation" class="node"><ellipse class="s" cx="1309" cy="550" rx="178" ry="59"/><text x="1309" y="562">"Cytoskeleton organisation"</text></g>
<g id="b-chromatin-organisation" class="node"><ellipse class="g" cx="892" cy="686" rx="178" ry="59"/><text x="892" y="698">"Chromatin organisation"</text></g>
<g id="b-protein-homeostasis" class="node"><ellipse class="w" cx="2455" cy="760" rx="178" ry="59"/><text x="2455" y="772">"Protein homeostasis"</text></g>
<g id="b-redox-homeostasis" class="node"><ellipse class="w" cx="2942" cy="782" rx="178" ry="59"/><text x="2942" y="794">"Redox homeostasis"</text></g>
<g id="b-protein-biosynthesis" class="node"><ellipse class="w" cx="1975" cy="787" rx="178" ry="59"/><text x="1975" y="799">"Protein biosynthesis"</text></g>
<g id="b-cell-wall-organisation" class="node"><ellipse class="w" cx="1493" cy="831" rx="178" ry="59"/><text x="1493" y="843">"Cell wall organisation"</text></g>
<g id="b-secondary-metabolism" class="node"><ellipse class="w" cx="592" cy="897" rx="178" ry="59"/><text x="592" y="909">"Secondary metabolism"</text></g>
<g id="b-protein-translocation" class="node"><ellipse class="w" cx="2397" cy="995" rx="178" ry="59"/><text x="2397" y="1007">"Protein translocation"</text></g>
<g id="b-plant-reproduction" class="node"><ellipse class="w" cx="1158" cy="998" rx="178" ry="59"/><text x="1158" y="1010">"Plant reproduction"</text></g>
<g id="b-nutrient-uptake" class="node"><ellipse class="w" cx="2801" cy="1068" rx="178" ry="59"/><text x="2801" y="1080">"Nutrient uptake"</text></g>
<g id="b-amino-acid-metabolism" class="node"><ellipse class="w" cx="779" cy="1203" rx="178" ry="59"/><text x="779" y="1215">"Amino acid metabolism"</text></g>
<g id="b-cellular-respiration" class="node"><ellipse class="g" cx="2163" cy="1214" rx="178" ry="59"/><text x="2163" y="1226">"Cellular respiration"</text></g>
<g id="b-photosynthesis" class="node"><ellipse class="w" cx="327" cy="1289" rx="178" ry="59"/><text x="327" y="1301">"Photosynthesis"</text></g>
<g id="b-rna-processing" class="node"><ellipse class="w" cx="1610" cy="1368" rx="178" ry="59"/><text x="1610" y="1380">"RNA processing"</text></g>
<g id="b-cell-division" class="node"><ellipse class="w" cx="2637" cy="1364" rx="178" ry="59"/><text x="2637" y="1376">"Cell division"</text></g>
<g id="b-carbohydrate-metabolism" class="node"><ellipse class="s" cx="790" cy="1445" rx="178" ry="59"/><text x="790" y="1457">"Carbohydrate metabolism"</text></g>
<g id="b-external-stimuli-response" class="node"><ellipse class="w" cx="2166" cy="1586" rx="178" ry="59"/><text x="2166" y="1598">"External stimuli response"</text></g>
<g id="b-polyamine-metabolism" class="node"><ellipse class="w" cx="588" cy="1658" rx="178" ry="59"/><text x="588" y="1670">"Polyamine metabolism"</text></g>
<g id="b-solute-transport" class="node"><ellipse class="w" cx="1105" cy="1665" rx="178" ry="59"/><text x="1105" y="1677">"Solute transport"</text></g>
<g id="b-phytohormone-action" class="node"><ellipse class="w" cx="2776" cy="1679" rx="178" ry="59"/><text x="2776" y="1691">"Phytohormone action"</text></g>
<g id="b-dna-damage-response" class="node"><ellipse class="w" cx="2306" cy="1801" rx="178" ry="59"/><text x="2306" y="1813">"DNA damage response"</text></g>
<g id="b-nucleotide-metabolism" class="node"><ellipse class="w" cx="1778" cy="1835" rx="178" ry="59"/><text x="1778" y="1847">"Nucleotide metabolism"</text></g>
<g id="b-vesicle-trafficking" class="node"><ellipse class="w" cx="929" cy="1854" rx="178" ry="59"/><text x="929" y="1866">"Vesicle trafficking"</text></g>
<g id="b-rna-biosynthesis" class="node"><ellipse class="w" cx="1392" cy="1941" rx="178" ry="59"/><text x="1392" y="1953">"RNA biosynthesis"</text></g>
</g>
</g>
</svg>
